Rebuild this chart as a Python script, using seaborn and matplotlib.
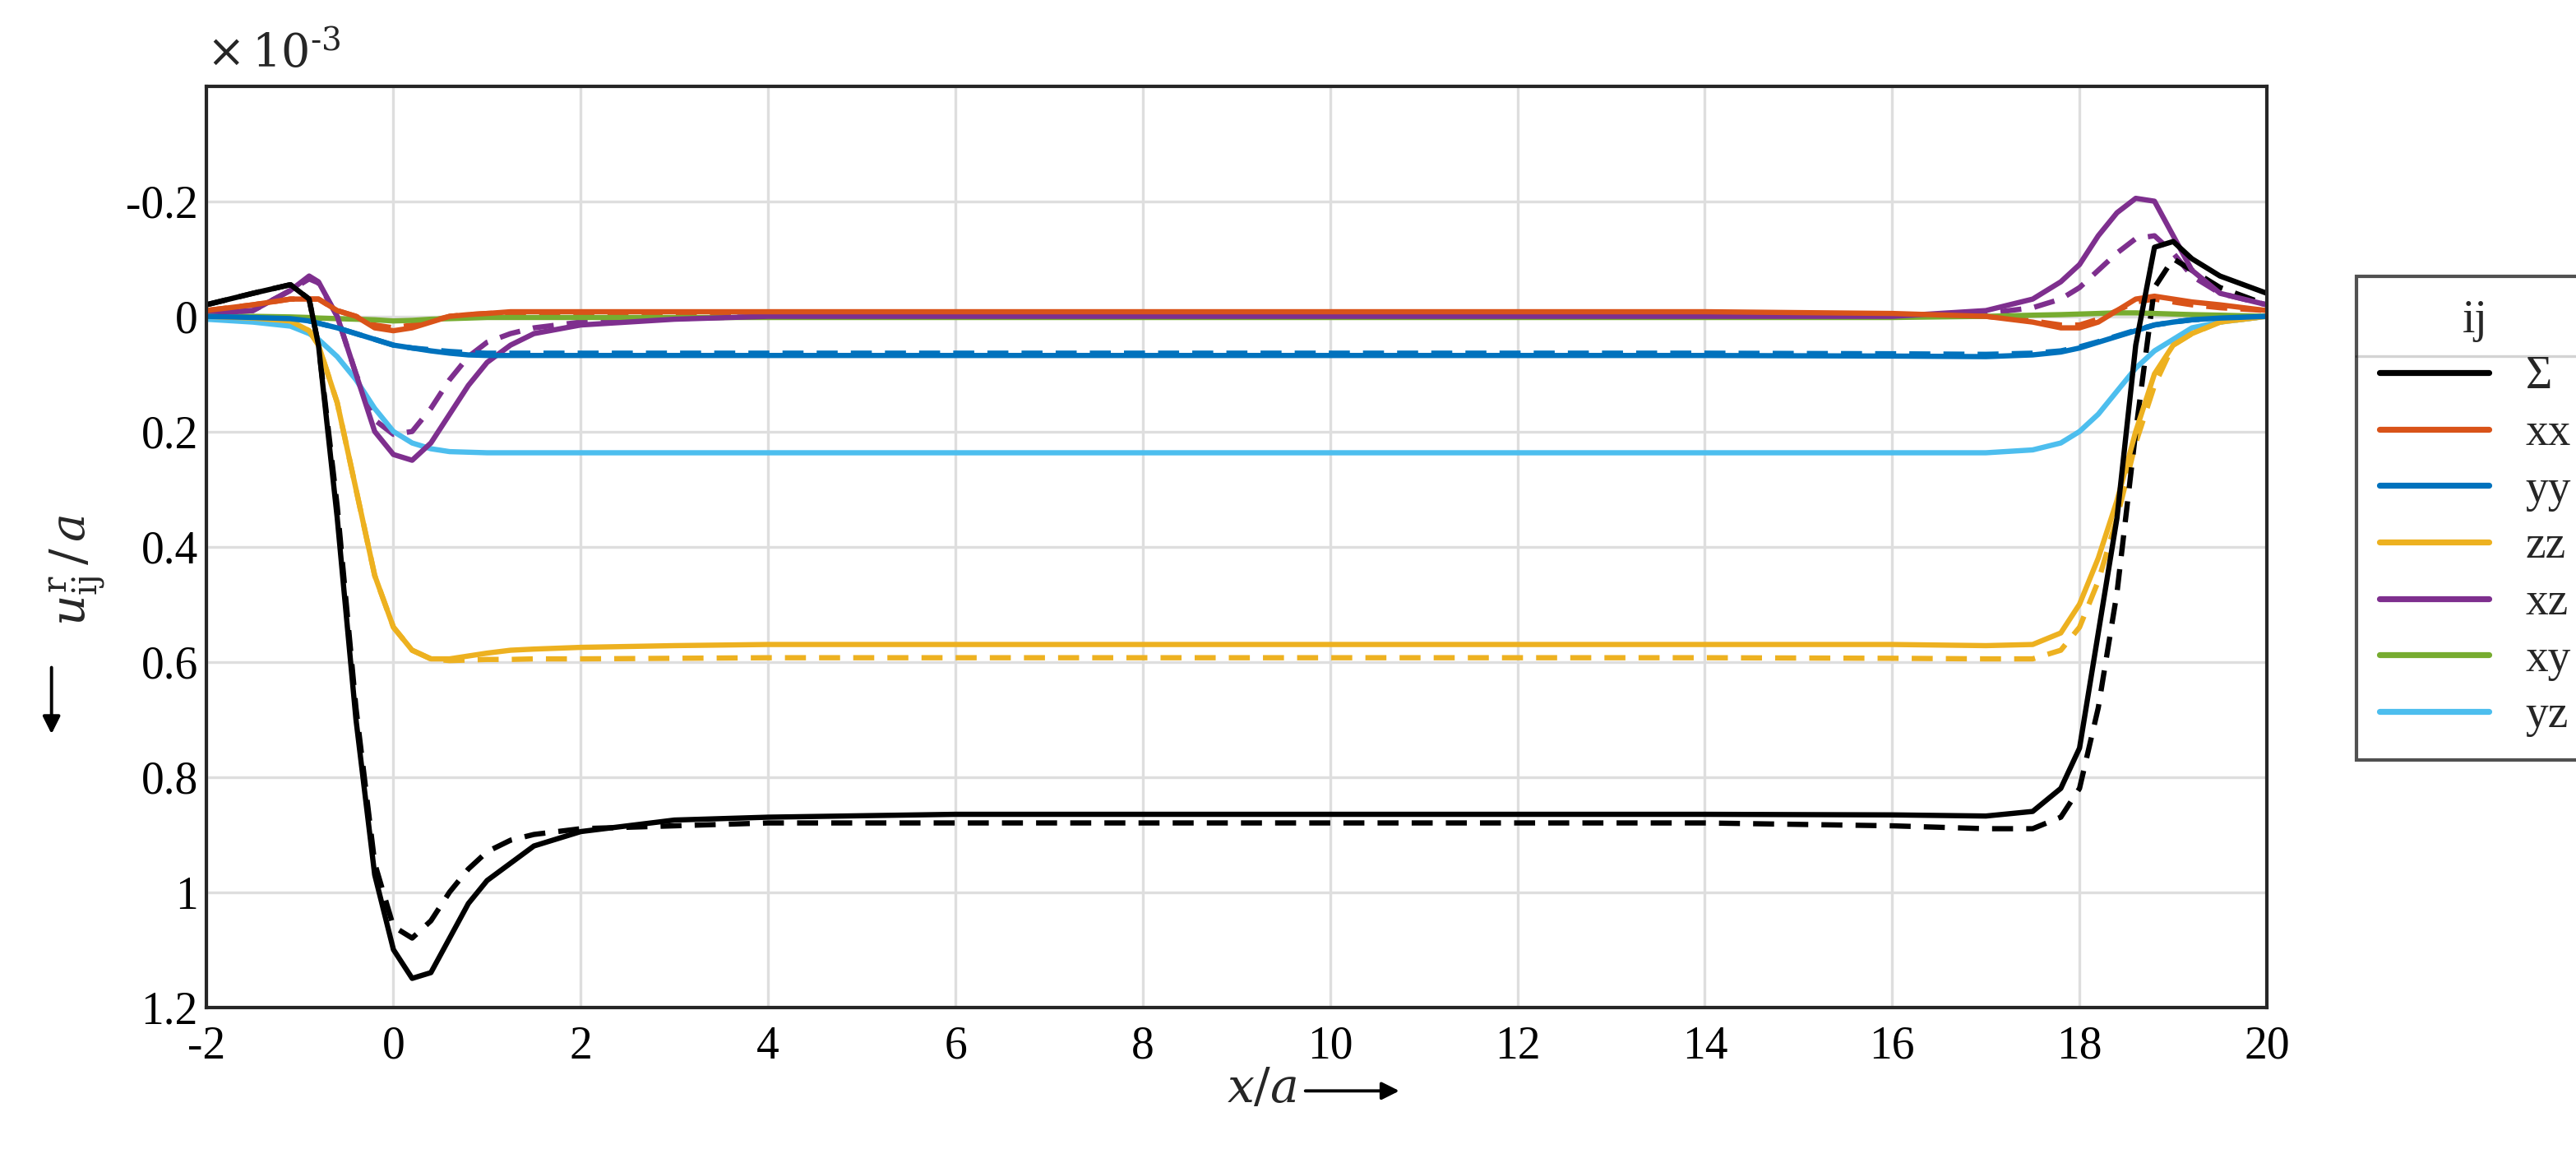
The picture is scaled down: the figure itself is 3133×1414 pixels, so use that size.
import numpy as np
import pandas as pd
import seaborn as sns
import matplotlib.pyplot as plt
from matplotlib.lines import Line2D

# x positions (x/a)
x = [-2, -1.5, -1.1, -0.9, -0.8, -0.6, -0.4, -0.2, 0, 0.2, 0.4, 0.6, 0.8, 1, 1.25, 1.5, 2, 3, 4, 6, 8,
     10, 12, 14, 16, 17, 17.5, 17.8, 18, 18.2, 18.4, 18.6, 18.8, 19, 19.2, 19.5, 20]

# values in units of 1e-3 (solid = one model, dashed = other)
sum_solid = [-0.02, -0.04, -0.055, -0.03, 0.05, 0.35, 0.70, 0.97, 1.10, 1.15, 1.14, 1.08, 1.02, 0.98, 0.95, 0.92, 0.895, 0.875, 0.87, 0.865, 0.865,
             0.865, 0.865, 0.865, 0.866, 0.868, 0.86, 0.82, 0.75, 0.55, 0.35, 0.05, -0.12, -0.13, -0.10, -0.07, -0.04]
sum_dash = [-0.02, -0.04, -0.055, -0.03, 0.05, 0.33, 0.68, 0.95, 1.06, 1.08, 1.05, 1.00, 0.96, 0.93, 0.91, 0.90, 0.89, 0.885, 0.88, 0.88, 0.88,
            0.88, 0.88, 0.88, 0.885, 0.89, 0.89, 0.87, 0.82, 0.68, 0.48, 0.20, -0.05, -0.10, -0.08, -0.05, -0.02]
xx_solid = [-0.01, -0.02, -0.03, -0.03, -0.03, -0.01, 0.0, 0.02, 0.025, 0.02, 0.01, 0.0, -0.003, -0.005, -0.008, -0.008, -0.008, -0.008, -0.008, -0.008, -0.008,
            -0.008, -0.008, -0.008, -0.005, 0.0, 0.01, 0.02, 0.02, 0.01, -0.01, -0.03, -0.035, -0.03, -0.025, -0.02, -0.01]
xx_dash = [-0.01, -0.02, -0.03, -0.03, -0.03, -0.01, 0.0, 0.015, 0.02, 0.015, 0.008, 0.0, -0.003, -0.005, -0.006, -0.006, -0.006, -0.006, -0.006, -0.006, -0.006,
           -0.006, -0.006, -0.006, -0.004, 0.0, 0.008, 0.015, 0.015, 0.005, -0.01, -0.025, -0.03, -0.025, -0.02, -0.015, -0.01]
yy_solid = [0.0, 0.002, 0.004, 0.008, 0.012, 0.02, 0.03, 0.04, 0.05, 0.055, 0.06, 0.064, 0.067, 0.068, 0.068, 0.068, 0.068, 0.068, 0.068, 0.068, 0.068,
            0.068, 0.068, 0.068, 0.069, 0.07, 0.067, 0.062, 0.055, 0.045, 0.035, 0.025, 0.015, 0.01, 0.006, 0.003, 0.0]
yy_dash = [0.0, 0.002, 0.004, 0.008, 0.012, 0.02, 0.03, 0.04, 0.05, 0.055, 0.058, 0.061, 0.063, 0.064, 0.064, 0.064, 0.064, 0.064, 0.064, 0.064, 0.064,
           0.064, 0.064, 0.064, 0.065, 0.066, 0.064, 0.06, 0.053, 0.044, 0.034, 0.024, 0.015, 0.01, 0.006, 0.003, 0.0]
zz_solid = [0.0, 0.003, 0.008, 0.025, 0.05, 0.15, 0.30, 0.45, 0.54, 0.58, 0.595, 0.595, 0.59, 0.585, 0.58, 0.578, 0.575, 0.572, 0.57, 0.57, 0.57,
            0.57, 0.57, 0.57, 0.57, 0.572, 0.57, 0.55, 0.50, 0.42, 0.32, 0.20, 0.10, 0.05, 0.03, 0.01, 0.0]
zz_dash = [0.0, 0.003, 0.008, 0.025, 0.05, 0.15, 0.30, 0.45, 0.54, 0.58, 0.595, 0.598, 0.597, 0.596, 0.596, 0.595, 0.595, 0.594, 0.593, 0.593, 0.593,
           0.593, 0.593, 0.593, 0.594, 0.595, 0.595, 0.58, 0.54, 0.46, 0.35, 0.22, 0.12, 0.05, 0.03, 0.01, 0.0]
xz_solid = [-0.005, -0.01, -0.045, -0.07, -0.06, 0.0, 0.10, 0.20, 0.24, 0.25, 0.22, 0.17, 0.12, 0.08, 0.05, 0.03, 0.015, 0.005, 0.0, 0.0, 0.0,
            0.0, 0.0, 0.0, 0.0, -0.01, -0.03, -0.06, -0.09, -0.14, -0.18, -0.205, -0.20, -0.14, -0.08, -0.04, -0.02]
xz_dash = [-0.005, -0.01, -0.045, -0.065, -0.058, 0.0, 0.10, 0.18, 0.205, 0.20, 0.16, 0.11, 0.07, 0.045, 0.03, 0.02, 0.01, 0.004, 0.0, 0.0, 0.0,
           0.0, 0.0, 0.0, 0.0, -0.005, -0.015, -0.03, -0.05, -0.08, -0.11, -0.135, -0.14, -0.11, -0.07, -0.04, -0.02]
xy_solid = [0.0, 0.0, 0.001, 0.002, 0.003, 0.004, 0.005, 0.006, 0.008, 0.007, 0.005, 0.004, 0.003, 0.002, 0.002, 0.002, 0.002, 0.002, 0.002, 0.002, 0.002,
            0.002, 0.002, 0.002, 0.002, 0.0, -0.002, -0.003, -0.004, -0.005, -0.006, -0.006, -0.005, -0.004, -0.003, -0.002, 0.0]
yz_solid = [0.005, 0.01, 0.017, 0.03, 0.04, 0.07, 0.11, 0.16, 0.20, 0.22, 0.23, 0.235, 0.236, 0.237, 0.237, 0.237, 0.237, 0.237, 0.237, 0.237, 0.237,
            0.237, 0.237, 0.237, 0.237, 0.237, 0.232, 0.22, 0.20, 0.17, 0.13, 0.09, 0.06, 0.04, 0.02, 0.01, 0.0]

labels = ["Σ", "xx", "yy", "zz", "xz", "xy", "yz"]
colors = ["#000000", "#D95319", "#0072BD", "#EDB120", "#7E2F8E", "#77AC30", "#4DBEEE"]
solid = [sum_solid, xx_solid, yy_solid, zz_solid, xz_solid, xy_solid, yz_solid]
dashed = [sum_dash, xx_dash, yy_dash, zz_dash, xz_dash, None, None]

sns.set_style("white")
plt.rcParams["font.family"] = ["Liberation Serif", "DejaVu Serif"]
plt.rcParams["mathtext.fontset"] = "dejavuserif"
FS = 20

fig = plt.figure(figsize=(15.665, 7.07), dpi=200)
ax = fig.add_axes([0.080, 0.134, 0.800, 0.792])

# dashed first, then solid on top (sum last)
for i in [6, 5, 4, 3, 2, 1, 0]:
    if dashed[i] is not None:
        sns.lineplot(x=x, y=dashed[i], ax=ax, color=colors[i], lw=2.3, ls=(0, (4, 2.5)))
for i in [6, 5, 4, 3, 2, 1, 0]:
    sns.lineplot(x=x, y=solid[i], ax=ax, color=colors[i], lw=2.3)

ax.set_xlim(-2, 20)
ax.set_ylim(1.2, -0.4)
ax.set_xticks(range(-2, 21, 2))
ax.set_yticks([-0.2, 0, 0.2, 0.4, 0.6, 0.8, 1.0, 1.2])
ax.set_yticklabels(["-0.2", "0", "0.2", "0.4", "0.6", "0.8", "1", "1.2"])
ax.set_xticklabels([str(v) for v in range(-2, 21, 2)])
ax.grid(True, color="#dedede", lw=1.2)
ax.tick_params(direction="in", length=6, width=1.5, colors="#262626", labelsize=FS, labelcolor="black")
ax.tick_params(axis="x", pad=8)
for s in ax.spines.values():
    s.set_color("#262626")
    s.set_linewidth(1.5)

ax.text(0.0, 1.01, r"$\times\,10^{\text{-}3}$", transform=ax.transAxes, fontsize=FS, ha="left", va="bottom")

# axis labels with arrows
fig.text(0.49, 0.062, r"$x/a$", ha="center", va="center", fontsize=FS + 1)
ax.annotate("", xy=(0.545, 0.062), xytext=(0.505, 0.062), xycoords="figure fraction",
            arrowprops=dict(arrowstyle="-|>", color="black", lw=1.4, mutation_scale=16))
fig.text(0.030, 0.51, r"$u^{\mathrm{r}}_{\mathrm{ij}}\,/\,a$", rotation=90, ha="center", va="center", fontsize=FS + 1)
ax.annotate("", xy=(0.020, 0.365), xytext=(0.020, 0.43), xycoords="figure fraction",
            arrowprops=dict(arrowstyle="-|>", color="black", lw=1.4, mutation_scale=16))

handles = [Line2D([], [], color=c, lw=2.6) for c in colors]
leg = fig.legend(handles, labels, title="ij", loc="upper left", bbox_to_anchor=(0.906, 0.782),
                 frameon=True, fancybox=False, edgecolor="#262626", fontsize=FS, title_fontsize=FS,
                 handlelength=2.4, labelspacing=0.3, borderpad=0.5)
leg.get_frame().set_linewidth(1.5)

# separator line under legend title
fig.canvas.draw()
r = fig.canvas.get_renderer()
lb = leg.get_window_extent(r).transformed(fig.transFigure.inverted())
tb = leg.get_title().get_window_extent(r).transformed(fig.transFigure.inverted())
ysep = tb.y0 - 0.012
fig.add_artist(Line2D([lb.x0, lb.x1], [ysep, ysep], color="#262626", lw=1.2, transform=fig.transFigure))

fig.savefig("out.png", dpi=200)
